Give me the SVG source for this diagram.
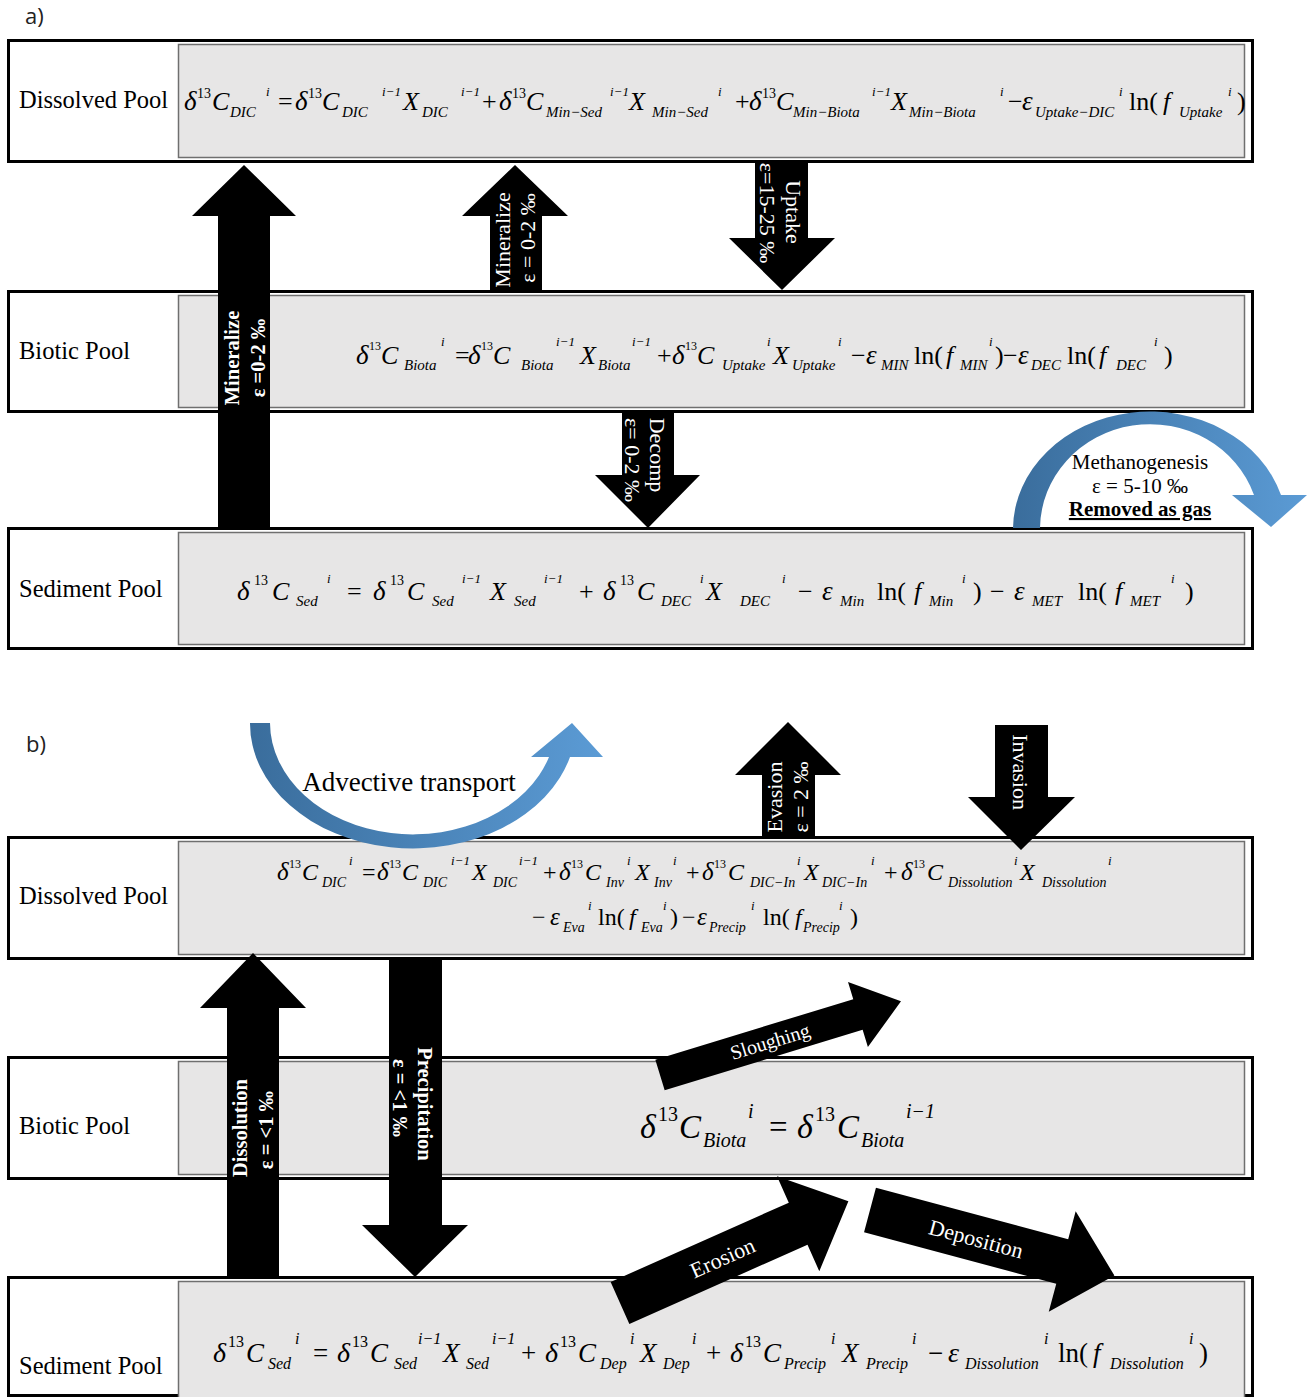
<svg xmlns="http://www.w3.org/2000/svg" width="1310" height="1397" viewBox="0 0 1310 1397">
<style>
.ob{fill:#fff;stroke:#000;stroke-width:3}
.ib{fill:#e7e6e6;stroke:#6f6f6f;stroke-width:1.5}
.lbl{font-family:"Liberation Serif",serif;font-size:24.5px;fill:#000}
.pl{font-family:"Open Sans","Liberation Sans",sans-serif;font-size:22px;fill:#222}
.eq{font-family:"Liberation Serif",serif;fill:#000}
.v{font-style:italic;font-size:26px}
.d{font-style:italic;font-size:27px}
.o{font-size:26px}
.t{font-size:14px}
.s{font-style:italic;font-size:15px}
.p{font-style:italic;font-size:13px}
.cn .t{font-size:12px}
.sm .v,.sm .o{font-size:24px}.sm .d{font-size:25px}.sm .s{font-size:14px}.sm .p{font-size:13px}.sm .t{font-size:12px}
.lg .v,.lg .o{font-size:33px}.lg .d{font-size:34px}.lg .s,.lg .p,.lg .t{font-size:20px}
.md .v,.md .o{font-size:27px}.md .d{font-size:28px}.md .s,.md .p{font-size:16px}.md .t{font-size:16px}
.ar{fill:#000}
.wl{font-family:"Liberation Serif",serif;fill:#fff;font-size:22px;text-anchor:middle}
.wb{font-weight:bold;font-size:20.5px}
.bl{font-family:"Liberation Serif",serif;fill:#000;font-size:21px;text-anchor:middle}
</style>
<defs>
<linearGradient id="blu" x1="0" y1="0" x2="1" y2="0">
<stop offset="0" stop-color="#3a6d9c"/>
<stop offset="1" stop-color="#5b9bd5"/>
</linearGradient>
</defs>
<text class="pl" x="25" y="24">a)</text>
<text class="pl" x="26" y="752">b)</text>

<g id="a-dissolved">
<rect class="ob" x="8.5" y="40.5" width="1244" height="121"/>
<rect class="ib" x="178.5" y="44.5" width="1066" height="113"/>
<text class="lbl" x="19" y="108">Dissolved Pool</text>
<text class="eq">
<tspan class="d" x="184" y="110">δ</tspan><tspan class="t" x="197" y="98">13</tspan><tspan class="v" x="212" y="110">C</tspan><tspan class="s" x="230" y="117">DIC</tspan><tspan class="p" x="266" y="96">i</tspan><tspan class="o" x="278" y="110">=</tspan>
<tspan class="d" x="295" y="110">δ</tspan><tspan class="t" x="308" y="98">13</tspan><tspan class="v" x="322" y="110">C</tspan><tspan class="s" x="342" y="117">DIC</tspan><tspan class="p" x="382" y="96">i−1</tspan><tspan class="v" x="403" y="110">X</tspan><tspan class="s" x="422" y="117">DIC</tspan><tspan class="p" x="461" y="96">i−1</tspan><tspan class="o" x="482" y="110">+</tspan>
<tspan class="d" x="499" y="110">δ</tspan><tspan class="t" x="512" y="98">13</tspan><tspan class="v" x="526" y="110">C</tspan><tspan class="s" x="546" y="117">Min−Sed</tspan><tspan class="p" x="610" y="96">i−1</tspan><tspan class="v" x="629" y="110">X</tspan><tspan class="s" x="652" y="117">Min−Sed</tspan><tspan class="p" x="718" y="96">i</tspan><tspan class="o" x="735" y="110">+</tspan>
<tspan class="d" x="749" y="110">δ</tspan><tspan class="t" x="762" y="98">13</tspan><tspan class="v" x="776" y="110">C</tspan><tspan class="s" x="793" y="117">Min−Biota</tspan><tspan class="p" x="872" y="96">i−1</tspan><tspan class="v" x="891" y="110">X</tspan><tspan class="s" x="909" y="117">Min−Biota</tspan><tspan class="p" x="1000" y="96">i</tspan><tspan class="o" x="1008" y="110">−</tspan>
<tspan class="d" x="1022" y="110">ε</tspan><tspan class="s" x="1035" y="117">Uptake−DIC</tspan><tspan class="p" x="1119" y="96">i</tspan><tspan class="o" x="1129" y="110">ln(</tspan><tspan class="v" x="1163" y="110">f</tspan><tspan class="s" x="1179" y="117">Uptake</tspan><tspan class="p" x="1228" y="96">i</tspan><tspan class="o" x="1237" y="110">)</tspan>
</text>
</g>

<g id="a-biotic">
<rect class="ob" x="8.5" y="291.5" width="1244" height="120"/>
<rect class="ib" x="178.5" y="295.5" width="1066" height="112"/>
<text class="lbl" x="19" y="359">Biotic Pool</text>
<text class="eq cn">
<tspan class="d" x="356" y="364">δ</tspan><tspan class="t" x="369" y="350">13</tspan><tspan class="v" x="381" y="364">C</tspan><tspan class="s" x="404" y="370">Biota</tspan><tspan class="p" x="441" y="346">i</tspan><tspan class="o" x="455" y="364">=</tspan>
<tspan class="d" x="468" y="364">δ</tspan><tspan class="t" x="481" y="350">13</tspan><tspan class="v" x="493" y="364">C</tspan><tspan class="s" x="521" y="370">Biota</tspan><tspan class="p" x="556" y="346">i−1</tspan><tspan class="v" x="580" y="364">X</tspan><tspan class="s" x="598" y="370">Biota</tspan><tspan class="p" x="632" y="346">i−1</tspan><tspan class="o" x="657" y="364">+</tspan>
<tspan class="d" x="672" y="364">δ</tspan><tspan class="t" x="685" y="350">13</tspan><tspan class="v" x="697" y="364">C</tspan><tspan class="s" x="722" y="370">Uptake</tspan><tspan class="p" x="767" y="346">i</tspan><tspan class="v" x="773" y="364">X</tspan><tspan class="s" x="792" y="370">Uptake</tspan><tspan class="p" x="838" y="346">i</tspan><tspan class="o" x="851" y="364">−</tspan>
<tspan class="d" x="866" y="364">ε</tspan><tspan class="s" x="881" y="370">MIN</tspan><tspan class="o" x="914" y="364">ln(</tspan><tspan class="v" x="946" y="364">f</tspan><tspan class="s" x="960" y="370">MIN</tspan><tspan class="p" x="989" y="346">i</tspan><tspan class="o" x="995" y="364">)</tspan><tspan class="o" x="1003" y="364">−</tspan>
<tspan class="d" x="1018" y="364">ε</tspan><tspan class="s" x="1031" y="370">DEC</tspan><tspan class="o" x="1067" y="364">ln(</tspan><tspan class="v" x="1099" y="364">f</tspan><tspan class="s" x="1116" y="370">DEC</tspan><tspan class="p" x="1154" y="346">i</tspan><tspan class="o" x="1164" y="364">)</tspan>
</text>
</g>

<g id="a-sediment">
<rect class="ob" x="8.5" y="528.5" width="1244" height="120"/>
<rect class="ib" x="178.5" y="532.5" width="1066" height="112"/>
<text class="lbl" x="19" y="597">Sediment Pool</text>
<text class="eq">
<tspan class="d" x="237" y="600">δ</tspan><tspan class="t" x="254" y="585">13</tspan><tspan class="v" x="272" y="600">C</tspan><tspan class="s" x="296" y="606">Sed</tspan><tspan class="p" x="327" y="583">i</tspan><tspan class="o" x="347" y="600">=</tspan>
<tspan class="d" x="373" y="600">δ</tspan><tspan class="t" x="390" y="585">13</tspan><tspan class="v" x="407" y="600">C</tspan><tspan class="s" x="432" y="606">Sed</tspan><tspan class="p" x="462" y="583">i−1</tspan><tspan class="v" x="490" y="600">X</tspan><tspan class="s" x="514" y="606">Sed</tspan><tspan class="p" x="544" y="583">i−1</tspan><tspan class="o" x="579" y="600">+</tspan>
<tspan class="d" x="603" y="600">δ</tspan><tspan class="t" x="620" y="585">13</tspan><tspan class="v" x="637" y="600">C</tspan><tspan class="s" x="661" y="606">DEC</tspan><tspan class="p" x="700" y="583">i</tspan><tspan class="v" x="706" y="600">X</tspan><tspan class="s" x="740" y="606">DEC</tspan><tspan class="p" x="782" y="583">i</tspan><tspan class="o" x="798" y="600">−</tspan>
<tspan class="d" x="822" y="600">ε</tspan><tspan class="s" x="840" y="606">Min</tspan><tspan class="o" x="877" y="600">ln(</tspan><tspan class="v" x="914" y="600">f</tspan><tspan class="s" x="929" y="606">Min</tspan><tspan class="p" x="962" y="583">i</tspan><tspan class="o" x="973" y="600">)</tspan><tspan class="o" x="990" y="600">−</tspan>
<tspan class="d" x="1014" y="600">ε</tspan><tspan class="s" x="1032" y="606">MET</tspan><tspan class="o" x="1078" y="600">ln(</tspan><tspan class="v" x="1115" y="600">f</tspan><tspan class="s" x="1130" y="606">MET</tspan><tspan class="p" x="1171" y="583">i</tspan><tspan class="o" x="1185" y="600">)</tspan>
</text>
</g>

<g id="b-dissolved">
<rect class="ob" x="8.5" y="837.5" width="1244" height="121"/>
<rect class="ib" x="178.5" y="841.5" width="1066" height="113"/>
<text class="lbl" x="19" y="904">Dissolved Pool</text>
<text class="eq sm">
<tspan class="d" x="277" y="880">δ</tspan><tspan class="t" x="289" y="868">13</tspan><tspan class="v" x="302" y="880">C</tspan><tspan class="s" x="322" y="887">DIC</tspan><tspan class="p" x="349" y="865">i</tspan><tspan class="o" x="362" y="880">=</tspan>
<tspan class="d" x="377" y="880">δ</tspan><tspan class="t" x="389" y="868">13</tspan><tspan class="v" x="402" y="880">C</tspan><tspan class="s" x="423" y="887">DIC</tspan><tspan class="p" x="451" y="865">i−1</tspan><tspan class="v" x="472" y="880">X</tspan><tspan class="s" x="493" y="887">DIC</tspan><tspan class="p" x="519" y="865">i−1</tspan><tspan class="o" x="543" y="880">+</tspan>
<tspan class="d" x="559" y="880">δ</tspan><tspan class="t" x="571" y="868">13</tspan><tspan class="v" x="585" y="880">C</tspan><tspan class="s" x="606" y="887">Inv</tspan><tspan class="p" x="627" y="865">i</tspan><tspan class="v" x="635" y="880">X</tspan><tspan class="s" x="654" y="887">Inv</tspan><tspan class="p" x="673" y="865">i</tspan><tspan class="o" x="686" y="880">+</tspan>
<tspan class="d" x="702" y="880">δ</tspan><tspan class="t" x="714" y="868">13</tspan><tspan class="v" x="728" y="880">C</tspan><tspan class="s" x="750" y="887">DIC−In</tspan><tspan class="p" x="797" y="865">i</tspan><tspan class="v" x="804" y="880">X</tspan><tspan class="s" x="822" y="887">DIC−In</tspan><tspan class="p" x="871" y="865">i</tspan><tspan class="o" x="884" y="880">+</tspan>
<tspan class="d" x="901" y="880">δ</tspan><tspan class="t" x="913" y="868">13</tspan><tspan class="v" x="927" y="880">C</tspan><tspan class="s" x="948" y="887">Dissolution</tspan><tspan class="p" x="1014" y="865">i</tspan><tspan class="v" x="1020" y="880">X</tspan><tspan class="s" x="1042" y="887">Dissolution</tspan><tspan class="p" x="1108" y="865">i</tspan>
<tspan class="o" x="532" y="925">−</tspan><tspan class="d" x="550" y="925">ε</tspan><tspan class="s" x="563" y="932">Eva</tspan><tspan class="p" x="588" y="910">i</tspan><tspan class="o" x="598" y="925">ln(</tspan><tspan class="v" x="629" y="925">f</tspan><tspan class="s" x="641" y="932">Eva</tspan><tspan class="p" x="663" y="910">i</tspan><tspan class="o" x="670" y="925">)</tspan><tspan class="o" x="682" y="925">−</tspan>
<tspan class="d" x="697" y="925">ε</tspan><tspan class="s" x="709" y="932">Precip</tspan><tspan class="p" x="751" y="910">i</tspan><tspan class="o" x="763" y="925">ln(</tspan><tspan class="v" x="795" y="925">f</tspan><tspan class="s" x="803" y="932">Precip</tspan><tspan class="p" x="839" y="910">i</tspan><tspan class="o" x="850" y="925">)</tspan>
</text>
</g>

<g id="b-biotic">
<rect class="ob" x="8.5" y="1057.5" width="1244" height="121"/>
<rect class="ib" x="178.5" y="1061.5" width="1066" height="113"/>
<text class="lbl" x="19" y="1134">Biotic Pool</text>
<text class="eq lg">
<tspan class="d" x="640" y="1138">δ</tspan><tspan class="t" x="658" y="1121">13</tspan><tspan class="v" x="679" y="1138">C</tspan><tspan class="s" x="703" y="1147">Biota</tspan><tspan class="p" x="748" y="1118">i</tspan><tspan class="o" x="769" y="1138">=</tspan>
<tspan class="d" x="797" y="1138">δ</tspan><tspan class="t" x="815" y="1121">13</tspan><tspan class="v" x="837" y="1138">C</tspan><tspan class="s" x="861" y="1147">Biota</tspan><tspan class="p" x="906" y="1118">i−1</tspan>
</text>
</g>

<g id="b-sediment">
<rect class="ob" x="8.5" y="1277.5" width="1244" height="118"/>
<rect class="ib" x="178.5" y="1281.5" width="1066" height="118"/>
<text class="lbl" x="19" y="1374">Sediment Pool</text>
<text class="eq md">
<tspan class="d" x="213" y="1362">δ</tspan><tspan class="t" x="228" y="1347">13</tspan><tspan class="v" x="246" y="1362">C</tspan><tspan class="s" x="268" y="1369">Sed</tspan><tspan class="p" x="295" y="1344">i</tspan><tspan class="o" x="313" y="1362">=</tspan>
<tspan class="d" x="337" y="1362">δ</tspan><tspan class="t" x="352" y="1347">13</tspan><tspan class="v" x="370" y="1362">C</tspan><tspan class="s" x="394" y="1369">Sed</tspan><tspan class="p" x="418" y="1344">i−1</tspan><tspan class="v" x="443" y="1362">X</tspan><tspan class="s" x="466" y="1369">Sed</tspan><tspan class="p" x="492" y="1344">i−1</tspan><tspan class="o" x="521" y="1362">+</tspan>
<tspan class="d" x="545" y="1362">δ</tspan><tspan class="t" x="560" y="1347">13</tspan><tspan class="v" x="578" y="1362">C</tspan><tspan class="s" x="600" y="1369">Dep</tspan><tspan class="p" x="630" y="1344">i</tspan><tspan class="v" x="640" y="1362">X</tspan><tspan class="s" x="663" y="1369">Dep</tspan><tspan class="p" x="692" y="1344">i</tspan><tspan class="o" x="706" y="1362">+</tspan>
<tspan class="d" x="730" y="1362">δ</tspan><tspan class="t" x="745" y="1347">13</tspan><tspan class="v" x="763" y="1362">C</tspan><tspan class="s" x="784" y="1369">Precip</tspan><tspan class="p" x="831" y="1344">i</tspan><tspan class="v" x="842" y="1362">X</tspan><tspan class="s" x="866" y="1369">Precip</tspan><tspan class="p" x="912" y="1344">i</tspan><tspan class="o" x="928" y="1362">−</tspan>
<tspan class="d" x="948" y="1362">ε</tspan><tspan class="s" x="965" y="1369">Dissolution</tspan><tspan class="p" x="1044" y="1344">i</tspan><tspan class="o" x="1058" y="1362">ln(</tspan><tspan class="v" x="1093" y="1362">f</tspan><tspan class="s" x="1110" y="1369">Dissolution</tspan><tspan class="p" x="1189" y="1344">i</tspan><tspan class="o" x="1199" y="1362">)</tspan>
</text>
</g>

<g id="connectors">
<g id="mineralize-big">
<polygon class="ar" points="244,165 296,216 270,216 270,528 218,528 218,216 192,216"/>
<text class="wl wb" transform="translate(239,358) rotate(-90)">Mineralize</text>
<text class="wl wb" transform="translate(265,358) rotate(-90)">ε =0-2 ‰</text>
</g>
<g id="mineralize-small">
<polygon class="ar" points="515,165 568,216 542,216 542,291 490,291 490,216 462,216"/>
<text class="wl" transform="translate(510,240) rotate(-90)">Mineralize</text>
<text class="wl" transform="translate(535,238) rotate(-90)">ε = 0-2 ‰</text>
</g>
<g id="uptake">
<polygon class="ar" points="755,163 808,163 808,238 835,238 782,290 729,238 755,238"/>
<text class="wl" transform="translate(786,212) rotate(90)">Uptake</text>
<text class="wl" transform="translate(760,213) rotate(90)">ε=15-25 ‰</text>
</g>
<g id="decomp">
<polygon class="ar" points="622,411 674,411 674,475 700,475 648,528 595,475 622,475"/>
<text class="wl" transform="translate(650,455) rotate(90)">Decomp</text>
<text class="wl" transform="translate(625,460) rotate(90)">ε= 0-2 ‰</text>
</g>
<g id="methanogenesis">
<path fill="url(#blu)" d="M1013,528 A137,118 0 0 1 1281,495 L1307,495 L1271,527 L1232,495 L1254,495 A110,105 0 0 0 1040,528 Z"/>
<text class="bl" x="1140" y="469">Methanogenesis</text>
<text class="bl" x="1140" y="493">ε = 5-10 ‰</text>
<text class="bl" x="1140" y="516" style="font-weight:bold;text-decoration:underline">Removed as gas</text>
</g>
<g id="advective">
<path fill="url(#blu)" d="M250,723 A163,125 0 0 0 570,757 L603,757 L572,723 L531,757 L549,757 A143,112 0 0 1 270,723 Z"/>
<text class="bl" x="409" y="791" style="font-size:27px">Advective transport</text>
</g>
<g id="evasion">
<polygon class="ar" points="788,722 841,775 815,775 815,837 762,837 762,775 735,775"/>
<text class="wl" transform="translate(782,797) rotate(-90)">Evasion</text>
<text class="wl" transform="translate(808,797) rotate(-90)">ε = 2 ‰</text>
</g>
<g id="invasion">
<polygon class="ar" points="995,725 1048,725 1048,797 1075,797 1021,850 968,797 995,797"/>
<text class="wl" transform="translate(1013,772) rotate(90)">Invasion</text>
</g>
<g id="dissolution">
<polygon class="ar" points="253,953 306,1008 279,1008 279,1277 227,1277 227,1008 200,1008"/>
<text class="wl wb" transform="translate(247,1128) rotate(-90)">Dissolution</text>
<text class="wl wb" transform="translate(273,1130) rotate(-90)">ε = &lt;1 ‰</text>
</g>
<g id="precipitation">
<polygon class="ar" points="389,958 442,958 442,1225 468,1225 415,1277 362,1225 389,1225"/>
<text class="wl wb" transform="translate(418,1104) rotate(90)">Precipitation</text>
<text class="wl wb" transform="translate(393,1098) rotate(90)">ε = &lt;1 ‰</text>
</g>
<g id="sloughing" transform="translate(660,1075) rotate(-17)">
<polygon class="ar" points="0,-16 207,-16 207,-34 252,0 207,34 207,16 0,16"/>
<text class="wl" x="115" y="7" style="font-size:20px">Sloughing</text>
</g>
<g id="erosion" transform="translate(620,1303) rotate(-24)">
<polygon class="ar" points="0,-23 195,-23 195,-52 250,0 195,52 195,23 0,23"/>
<text class="wl" x="112" y="8">Erosion</text>
</g>
<g id="deposition" transform="translate(870,1210) rotate(15)">
<polygon class="ar" points="0,-23 199,-23 199,-52 253,0 199,52 199,23 0,23"/>
<text class="wl" x="110" y="8">Deposition</text>
</g>
</g>
</svg>
